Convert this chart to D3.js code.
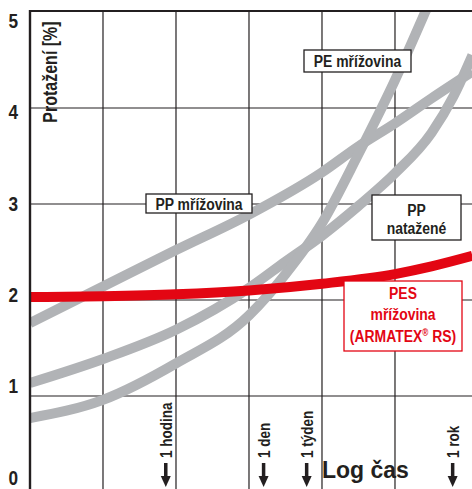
<!DOCTYPE html>
<html>
<head>
<meta charset="utf-8">
<script src="https://cdn.jsdelivr.net/npm/d3@7/dist/d3.min.js"></script>
<style>
  html, body { margin: 0; padding: 0; background: #fff; }
  svg { display: block; }
  text { font-family: "Liberation Sans", Arial, sans-serif; font-weight: bold; fill: #231f20; }
</style>
</head>
<body>
<svg id="chart" width="472" height="489"></svg>
<script>
// ---- data (x in log-time grid units, y in % elongation) ----
const yTicks = [0, 1, 2, 3, 4, 5];

const ppGridX = [0, 1, 2, 3, 4, 4.5, 5, 5.5, 6.06];
const ppGridY = [1.76, 2.14, 2.52, 2.89, 3.33, 3.60, 3.84, 4.10, 4.38];

const ppStretchX = [0, 1, 2, 3, 3.5, 4, 4.5, 5, 5.5, 5.8, 6.06];
const ppStretchY = [1.135, 1.385, 1.69, 2.125, 2.40, 2.67, 2.98, 3.32, 3.74, 4.12, 4.55];

const peGridX = [0, 1, 2, 3, 3.5, 4, 4.5, 5, 5.42, 5.7];
const peGridY = [0.77, 0.96, 1.34, 1.84, 2.27, 2.80, 3.52, 4.29, 5.01, 5.5];

const pesX = [0, 1, 2, 3, 4, 5, 5.5, 6.06];
const pesY = [2.03, 2.04, 2.06, 2.10, 2.17, 2.27, 2.35, 2.46];

const timeMarkLabels = ["1 hodina", "1 den", "1 týden", "1 rok"];
const timeMarkPos = [1.86, 3.2, 3.79, 5.79];

const gridXs = [1, 2, 3, 4, 5];
const gridYs = [1, 2, 3, 4];

// ---- layout ----
const svg = d3.select("#chart");
const pLeft = 30, pTop = 11, pRight = 472;
const x = d3.scaleLinear().domain([0, 6.055]).range([pLeft, pRight]);
const y = d3.scaleLinear().domain([0, 5]).range([492, 12]);
const yLabel = d3.scaleLinear().domain([0, 5]).range([477, 20.5]);
const NARROW = 0.82;

const GRAY = "#b1b3b6", RED = "#e30613", INK = "#231f20";

svg.append("defs").append("clipPath").attr("id", "plot")
  .append("rect").attr("x", pLeft).attr("y", pTop).attr("width", pRight - pLeft).attr("height", 489 - pTop);

// condensed text helper
function ntext(parent, tx, ty, rot, size, anchor, color) {
  return parent.append("g")
    .attr("transform", `translate(${tx},${ty}) rotate(${rot}) scale(${NARROW},1)`)
    .append("text").attr("text-anchor", anchor)
    .style("font-size", size + "px").style("fill", color || INK);
}

// gridlines
const g = svg.append("g");
g.selectAll("line.v").data(gridXs).join("line")
  .attr("x1", d => x(d)).attr("x2", d => x(d)).attr("y1", pTop).attr("y2", 489)
  .attr("stroke", INK).attr("stroke-width", 1.2);
g.selectAll("line.h").data(gridYs).join("line")
  .attr("x1", pLeft).attr("x2", pRight).attr("y1", d => y(d)).attr("y2", d => y(d))
  .attr("stroke", INK).attr("stroke-width", 1.2);

// curves
const line = d3.line().x(d => x(d[0])).y(d => y(d[1])).curve(d3.curveMonotoneX);
const curves = [
  { xs: ppGridX, ys: ppGridY, color: GRAY },
  { xs: ppStretchX, ys: ppStretchY, color: GRAY },
  { xs: peGridX, ys: peGridY, color: GRAY },
  { xs: pesX, ys: pesY, color: RED }
];
const cg = svg.append("g").attr("clip-path", "url(#plot)");
curves.forEach(c => {
  cg.append("path").datum(d3.zip(c.xs, c.ys))
    .attr("d", line).attr("fill", "none")
    .attr("stroke", c.color).attr("stroke-width", 10);
});

// borders
svg.append("line").attr("x1", pLeft).attr("x2", pLeft).attr("y1", pTop - 1).attr("y2", 489)
  .attr("stroke", INK).attr("stroke-width", 2.4);
svg.append("line").attr("x1", pLeft - 1).attr("x2", pRight).attr("y1", pTop).attr("y2", pTop)
  .attr("stroke", INK).attr("stroke-width", 2);

// y tick labels
yTicks.forEach(v => {
  ntext(svg, 18, yLabel(v), 0, 21, "end").attr("dy", "0.36em").text(v);
});

// y axis title
ntext(svg, 57, 72, -90, 19.5, "middle").text("Protažení [%]");

// x axis title
svg.append("text").attr("x", 322).attr("y", 478).style("font-size", "23px").text("Log čas");

// time markers
d3.zip(timeMarkLabels, timeMarkPos).forEach(([lbl, pos]) => {
  const gx = svg.append("g").attr("transform", `translate(${x(pos)},0)`);
  ntext(gx, 6, 458, -90, 16.5, "start").text(lbl);
  gx.append("line").attr("x1", 0).attr("x2", 0).attr("y1", 463).attr("y2", 478)
    .attr("stroke", INK).attr("stroke-width", 3.5);
  gx.append("path").attr("d", "M-5,476 L5,476 L0,487 Z").attr("fill", INK);
});

// label boxes
function box(x0, y0, w, h, lines, color) {
  const bg = svg.append("g");
  bg.append("rect").attr("x", x0).attr("y", y0).attr("width", w).attr("height", h)
    .attr("fill", "#fff").attr("stroke", color).attr("stroke-width", 1.3);
  lines.forEach(l => {
    const t = ntext(bg, x0 + w / 2, l.y, 0, 17, "middle", color);
    if (Array.isArray(l.t)) {
      l.t.forEach(p => {
        const ts = t.append("tspan").text(p.s);
        if (p.sup) ts.attr("dy", "-6").style("font-size", "10px");
        if (p.after) ts.attr("dy", "6");
      });
    } else t.text(l.t);
  });
}
box(304, 50, 107, 22, [{ t: "PE mřížovina", y: 67 }], INK);
box(146, 194, 106, 19, [{ t: "PP mřížovina", y: 209.5 }], INK);
box(372, 195, 89, 45, [{ t: "PP", y: 216 }, { t: "natažené", y: 234 }], INK);
box(344, 281, 118, 70, [
  { t: "PES", y: 299 },
  { t: "mřížovina", y: 320 },
  { t: [{ s: "(ARMATEX" }, { s: "®", sup: true }, { s: " RS)", after: true }], y: 342 }
], RED);
</script>
</body>
</html>
